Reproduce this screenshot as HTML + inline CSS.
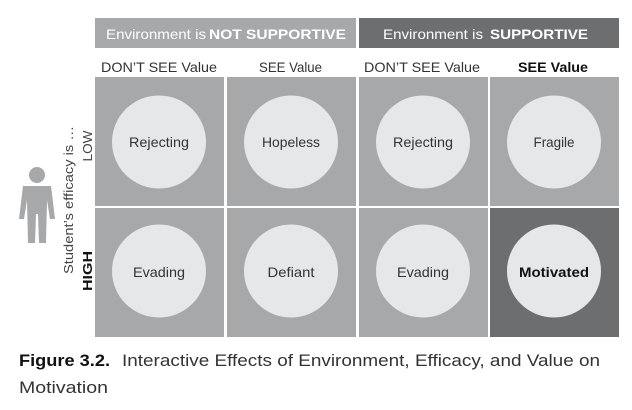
<!DOCTYPE html>
<html><head><meta charset="utf-8"><style>
body{margin:0;background:#fff;width:632px;height:405px;overflow:hidden;font-family:"Liberation Sans",sans-serif;}
</style></head><body>
<svg width="632" height="405" viewBox="0 0 632 405" xmlns="http://www.w3.org/2000/svg">
<g font-family="Liberation Sans, sans-serif" fill="#333">
<rect x="95" y="18" width="261" height="30" fill="#a7a8aa"/>
<rect x="359" y="18" width="260" height="30" fill="#6d6e70"/>
<text x="106" y="39" font-size="14" fill="#fff" textLength="100" lengthAdjust="spacingAndGlyphs">Environment is</text>
<text x="209" y="39" font-size="14" font-weight="bold" fill="#fff" textLength="137" lengthAdjust="spacingAndGlyphs">NOT SUPPORTIVE</text>
<text x="383" y="39" font-size="14" fill="#fff" textLength="100" lengthAdjust="spacingAndGlyphs">Environment is</text>
<text x="490" y="39" font-size="14" font-weight="bold" fill="#fff" textLength="98" lengthAdjust="spacingAndGlyphs">SUPPORTIVE</text>

<text x="101" y="72" font-size="14" textLength="116" lengthAdjust="spacingAndGlyphs">DON’T SEE Value</text>
<text x="259" y="72" font-size="14" textLength="63" lengthAdjust="spacingAndGlyphs">SEE Value</text>
<text x="364" y="72" font-size="14" textLength="116" lengthAdjust="spacingAndGlyphs">DON’T SEE Value</text>
<text x="518" y="72" font-size="14" font-weight="bold" fill="#111" textLength="70" lengthAdjust="spacingAndGlyphs">SEE Value</text>

<g font-size="14">
<g><rect x="95" y="77" width="129" height="129" fill="#a7a8aa"/><ellipse cx="159" cy="142" rx="47" ry="46.5" fill="#e6e7e8"/><text x="159" y="147" text-anchor="middle" textLength="60" lengthAdjust="spacingAndGlyphs">Rejecting</text></g>
<g><rect x="227" y="77" width="129" height="129" fill="#a7a8aa"/><ellipse cx="291" cy="142" rx="47" ry="46.5" fill="#e6e7e8"/><text x="291" y="147" text-anchor="middle" textLength="58" lengthAdjust="spacingAndGlyphs">Hopeless</text></g>
<g><rect x="359" y="77" width="129" height="129" fill="#a7a8aa"/><ellipse cx="423" cy="142" rx="47" ry="46.5" fill="#e6e7e8"/><text x="423" y="147" text-anchor="middle" textLength="60" lengthAdjust="spacingAndGlyphs">Rejecting</text></g>
<g><rect x="490" y="77" width="129" height="129" fill="#a7a8aa"/><ellipse cx="554" cy="142" rx="47" ry="46.5" fill="#e6e7e8"/><text x="554" y="147" text-anchor="middle" textLength="41" lengthAdjust="spacingAndGlyphs">Fragile</text></g>

<g><rect x="95" y="208" width="129" height="129" fill="#a7a8aa"/><ellipse cx="159" cy="271" rx="47" ry="46.5" fill="#e6e7e8"/><text x="159" y="277" text-anchor="middle" textLength="52" lengthAdjust="spacingAndGlyphs">Evading</text></g>
<g><rect x="227" y="208" width="129" height="129" fill="#a7a8aa"/><ellipse cx="291" cy="271" rx="47" ry="46.5" fill="#e6e7e8"/><text x="291" y="277" text-anchor="middle" textLength="47" lengthAdjust="spacingAndGlyphs">Defiant</text></g>
<g><rect x="359" y="208" width="129" height="129" fill="#a7a8aa"/><ellipse cx="423" cy="271" rx="47" ry="46.5" fill="#e6e7e8"/><text x="423" y="277" text-anchor="middle" textLength="52" lengthAdjust="spacingAndGlyphs">Evading</text></g>
<g><rect x="490" y="208" width="129" height="129" fill="#6d6e70"/><ellipse cx="554" cy="271" rx="47" ry="46.5" fill="#e6e7e8"/><text x="554" y="277" text-anchor="middle" font-weight="bold" fill="#111" textLength="70" lengthAdjust="spacingAndGlyphs">Motivated</text></g>
</g>

<g fill="#a7a8aa">
<circle cx="37" cy="175" r="8"/>
<path d="M23 186 L51 186 L55 219 L50 219 L47 200 L46 243 L39 243 L38 214 L36 214 L35 243 L28 243 L27 200 L24 219 L19 219 Z"/>
</g>
<text transform="translate(73,200) rotate(-90)" text-anchor="middle" font-size="13" fill="#444" textLength="148" lengthAdjust="spacingAndGlyphs">Student’s efficacy is …</text>
<text transform="translate(92,146) rotate(-90)" text-anchor="middle" font-size="13" fill="#444" textLength="31" lengthAdjust="spacingAndGlyphs">LOW</text>
<text transform="translate(92,271) rotate(-90)" text-anchor="middle" font-size="13" font-weight="bold" fill="#111" textLength="40" lengthAdjust="spacingAndGlyphs">HIGH</text>

<text x="19" y="366" font-size="17" font-weight="bold" fill="#111" textLength="91" lengthAdjust="spacingAndGlyphs">Figure 3.2.</text>
<text x="122" y="366" font-size="17" fill="#333" textLength="478" lengthAdjust="spacingAndGlyphs">Interactive Effects of Environment, Efficacy, and Value on</text>
<text x="19" y="393" font-size="17" fill="#333" textLength="89" lengthAdjust="spacingAndGlyphs">Motivation</text>
</g>
</svg>
</body></html>
